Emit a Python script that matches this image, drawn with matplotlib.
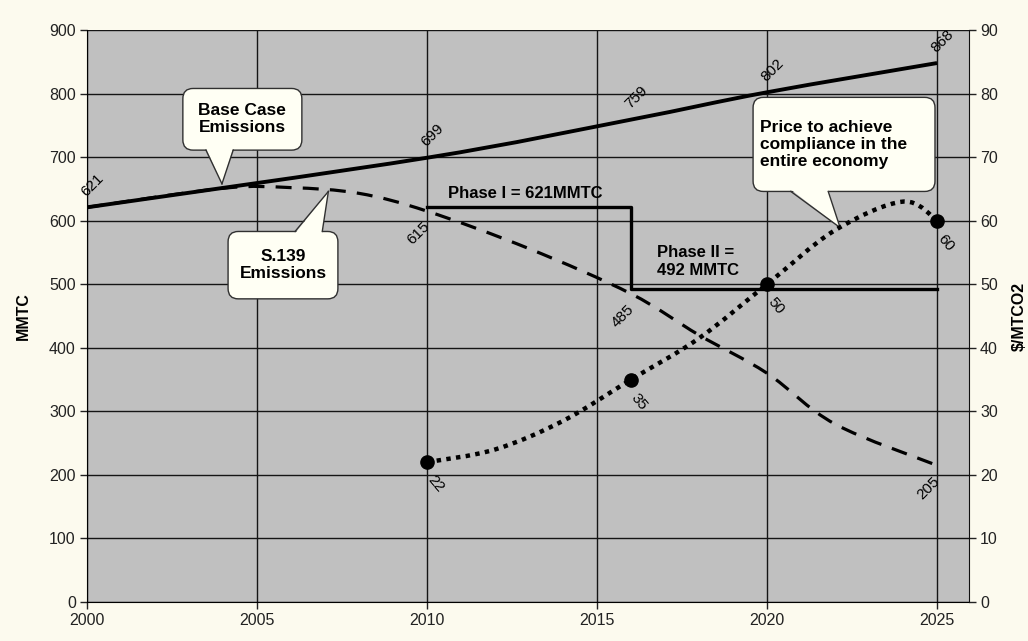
import matplotlib
matplotlib.use('Agg')
import matplotlib.pyplot as plt
from matplotlib.path import Path
from matplotlib.patches import PathPatch, FancyBboxPatch, Polygon
import numpy as np

plt.rcParams['font.family'] = ['Liberation Sans', 'DejaVu Sans']

# base case emissions (MMTC)
base_years = [2000, 2010, 2016, 2020, 2025]
base_vals = [621, 699, 759, 802, 848]
base_labels = ['621', '699', '759', '802', '868']

# S.139 emissions (MMTC)
s139_years = [2000, 2004, 2006, 2008, 2010, 2013, 2016, 2018, 2020, 2022, 2025]
s139_vals = [621, 651, 652, 643, 615, 556, 485, 420, 360, 280, 215]
s139_label_years = [2010, 2016, 2025]
s139_label_vals = [615, 485, 215]
s139_labels = ['615', '485', '205']

# price to achieve compliance ($/MTCO2), right axis
price_years = [2010, 2012, 2014, 2016, 2018, 2020, 2022, 2024, 2025]
price_vals = [22, 24, 28.5, 35, 41.5, 50, 58.5, 63, 60]
price_mark_years = [2010, 2016, 2020, 2025]
price_mark_vals = [22, 35, 50, 60]

# emission caps
phase_years = [2010, 2016, 2016, 2025]
phase_vals = [621, 621, 492, 492]

BG = '#fcfaee'
PLOT_BG = '#c0c0c0'
BOX = '#fffff4'


# smooth curve like excel (bezier through the points)
def smooth_path(xs, ys):
    pts = np.column_stack([xs, ys]).astype(float)
    n = len(pts)
    verts = [pts[0]]
    codes = [Path.MOVETO]
    for i in range(n - 1):
        p0 = pts[max(i - 1, 0)]
        p1 = pts[i]
        p2 = pts[i + 1]
        p3 = pts[min(i + 2, n - 1)]
        verts += [p1 + (p2 - p0) / 6, p2 - (p3 - p1) / 6, p2]
        codes += [Path.CURVE4] * 3
    return Path(verts, codes)


def callout(ax, text, box, base, tip, top=False, ha='center'):
    x0, y0, x1, y1 = box
    ax.add_patch(FancyBboxPatch((x0, y0), x1 - x0, y1 - y0,
                                boxstyle='round,pad=0,rounding_size=0.3',
                                mutation_aspect=54, fc=BOX, ec='#303030',
                                lw=1, zorder=6))
    yb = y1 - 3 if top else y0 + 3
    ax.add_patch(Polygon([(base[0], yb), (base[1], yb), tip], closed=True,
                         fc=BOX, ec='none', zorder=7))
    for bx in base:
        ax.plot([bx, tip[0]], [yb + (3 if top else -3), tip[1]],
                color='#303030', lw=1, zorder=8)
    if ha == 'center':
        ax.text((x0 + x1) / 2, (y0 + y1) / 2, text, ha='center', va='center',
                fontsize=12.5, fontweight='bold', linespacing=1.15, zorder=9)
    else:
        ax.text(x0 + 0.2, (y0 + y1) / 2, text, ha='left', va='center',
                fontsize=12.5, fontweight='bold', linespacing=1.15, zorder=9)


fig = plt.figure(figsize=(10.28, 6.41), dpi=100, facecolor=BG)
ax = fig.add_axes([0.0846, 0.0608, 0.858, 0.8924])
ax.set_facecolor(PLOT_BG)
ax2 = ax.twinx()

ax.set_xlim(2000, 2025.94)
ax.set_ylim(0, 900)
ax2.set_ylim(0, 90)
ax.set_xticks(range(2000, 2026, 5))
ax.set_yticks(range(0, 901, 100))
ax2.set_yticks(range(0, 91, 10))
ax.grid(True, color='#151515', lw=1)
ax.set_axisbelow(True)

for a in (ax, ax2):
    a.spines['top'].set_visible(False)
    a.tick_params(direction='out', length=5, width=1, labelsize=11.5,
                  colors='#222222', pad=3)
ax.spines['right'].set_visible(False)
ax2.spines['left'].set_visible(False)
ax2.spines['bottom'].set_visible(False)
ax2.spines['right'].set_color('#111111')

fig.text(23 / 1028, 0.507, 'MMTC', rotation=90, ha='center', va='center',
         fontsize=11.5, fontweight='bold')
fig.text(1019 / 1028, 0.507, '$/MTCO2', rotation=90, ha='center',
         va='center', fontsize=11.5, fontweight='bold')

# lines
ax.add_patch(PathPatch(smooth_path(s139_years, s139_vals), fill=False,
                       lw=2.3, ec='black', linestyle=(0, (5, 3.5)),
                       capstyle='butt', zorder=3))
ax.add_patch(PathPatch(smooth_path(base_years, base_vals), fill=False,
                       lw=2.8, ec='black', zorder=4))
ax.plot(phase_years, phase_vals, color='black', lw=2.4, zorder=4)
ax2.add_patch(PathPatch(smooth_path(price_years, price_vals), fill=False,
                        lw=3.2, ec='black', linestyle=(0, (1, 1.2)),
                        capstyle='butt', zorder=3))
ax2.plot(price_mark_years, price_mark_vals, 'o', ms=9.5, color='black',
         zorder=5)

# data labels
for x, y, s in zip(base_years, base_vals, base_labels):
    ax.annotate(s, (x, y), xytext=(1, 6), textcoords='offset points',
                rotation=45, rotation_mode='anchor', ha='left', va='bottom',
                fontsize=11, zorder=6)
for x, y, s in zip(s139_label_years, s139_label_vals, s139_labels):
    ax.annotate(s, (x, y), xytext=(-3, -6), textcoords='offset points',
                rotation=45, rotation_mode='anchor', ha='right', va='top',
                fontsize=11, zorder=6)
for x, y in zip(price_mark_years, price_mark_vals):
    ax2.annotate(f'{y}', (x, y), xytext=(6, -8), textcoords='offset points',
                 rotation=-50, rotation_mode='anchor', ha='left', va='top',
                 fontsize=11, zorder=6)

ax.text(2012.9, 643, 'Phase I = 621MMTC', ha='center', va='center',
        fontsize=12, fontweight='bold', zorder=6)
ax.text(2016.75, 535, 'Phase II =\n492 MMTC', ha='left', va='center',
        fontsize=12, fontweight='bold', linespacing=1.25, zorder=6)

# callouts
callout(ax, 'Base Case\nEmissions', (2002.82, 711, 2006.32, 808),
        (2003.5, 2004.3), (2003.97, 658))
callout(ax, 'S.139\nEmissions', (2004.15, 477, 2007.38, 583),
        (2006.12, 2006.92), (2007.1, 646), top=True)
callout(ax, 'Price to achieve\ncompliance in the\nentire economy',
        (2019.59, 646, 2024.94, 794), (2020.7, 2021.8), (2022.15, 589),
        ha='left')

fig.savefig('out.png', dpi=100, facecolor=BG)
